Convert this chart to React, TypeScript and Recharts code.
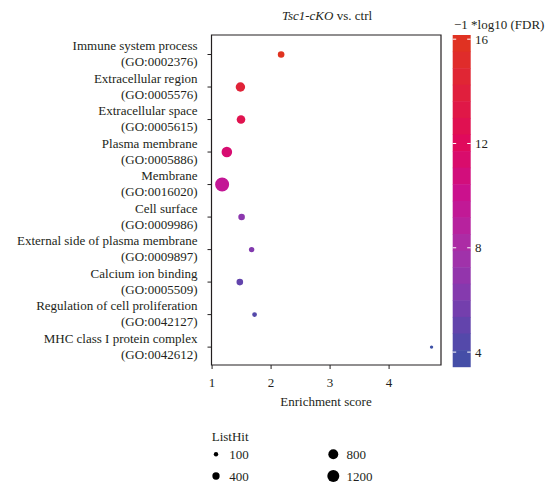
import React from "react";
import { ScatterChart, Scatter, XAxis, YAxis, ZAxis, Cell, ReferenceArea } from "recharts";

const terms = [
  "Immune system process",
  "Extracellular region",
  "Extracellular space",
  "Plasma membrane",
  "Membrane",
  "Cell surface",
  "External side of plasma membrane",
  "Calcium ion binding",
  "Regulation of cell proliferation",
  "MHC class I protein complex",
];
const goIds = [
  "GO:0002376",
  "GO:0005576",
  "GO:0005615",
  "GO:0005886",
  "GO:0016020",
  "GO:0009986",
  "GO:0009897",
  "GO:0005509",
  "GO:0042127",
  "GO:0042612",
];
const enrichment = [2.17, 1.48, 1.49, 1.25, 1.17, 1.5, 1.67, 1.47, 1.72, 4.72];
const listHit = [314, 709, 582, 921, 1659, 314, 187, 314, 133, 31];
const logFdr = [16.0, 14.3, 12.8, 11.2, 9.6, 6.6, 6.2, 5.0, 4.4, 3.44];

const xTicks = [1, 2, 3, 4];
const fdrTicks = [4, 8, 12, 16];
const sizeBreaks = [100, 400, 800, 1200];

// colour ramp of the FDR scale
const rampVals = [3.44, 5, 6.5, 8, 10, 12, 14, 16.16];
const rampCols = ["#3d51a6", "#6244ac", "#8a38ae", "#a92fa8", "#ca1190", "#e00a5c", "#e0203c", "#e0351e"];

const FONT = "'Liberation Serif', 'Times New Roman', serif";
const INK = "#231f20";

const hex = (c: string) => [1, 3, 5].map((i) => parseInt(c.slice(i, i + 2), 16));
function fdrColor(v: number) {
  if (v <= rampVals[0]) return rampCols[0];
  for (let i = 1; i < rampVals.length; i++) {
    if (v <= rampVals[i]) {
      const t = (v - rampVals[i - 1]) / (rampVals[i] - rampVals[i - 1]);
      const a = hex(rampCols[i - 1]);
      const b = hex(rampCols[i]);
      const m = a.map((x, k) => Math.round(x + (b[k] - x) * t));
      return `rgb(${m[0]},${m[1]},${m[2]})`;
    }
  }
  return rampCols[rampCols.length - 1];
}

// z -> area (px^2), linear with a small floor like ggplot's size scale
const Z_DOMAIN = [0, 2000];
const Z_RANGE = [2 * Math.PI, 58.67 * Math.PI];
const radiusOf = (n: number) => {
  const area = Z_RANGE[0] + ((Z_RANGE[1] - Z_RANGE[0]) * (n - Z_DOMAIN[0])) / (Z_DOMAIN[1] - Z_DOMAIN[0]);
  return Math.sqrt(area / Math.PI);
};

const data = terms.map((t, i) => ({
  term: t,
  rank: i + 1,
  score: enrichment[i],
  hits: listHit[i],
  fdr: logFdr[i],
}));

const X_DOMAIN = [0.99, 4.88];
const Y_DOMAIN = [0.4, 10.55];

function TermTick(props: any) {
  const { x, y, payload } = props;
  const i = payload.value - 1;
  return (
    <text x={x} y={y} textAnchor="end" fill={INK} fontSize={13} fontFamily={FONT}>
      <tspan x={x} dy={-4.5}>{terms[i]}</tspan>
      <tspan x={x} dy={16}>({goIds[i]})</tspan>
    </text>
  );
}

// colour bar geometry
const BAR = { x: 452.7, y: 35, w: 18, h: 331.7, top: 16.16, bottom: 3.44 };
const barY = (v: number) => BAR.y + ((BAR.top - v) / (BAR.top - BAR.bottom)) * BAR.h;

function Overlay() {
  const bins = 20;
  const step = BAR.h / bins;
  return (
    <svg
      width={549}
      height={487}
      style={{ position: "absolute", left: 0, top: 0, pointerEvents: "none" }}
      fontFamily={FONT}
      fill={INK}
    >
      <text x={327} y={19.5} textAnchor="middle" fontSize={13}>
        <tspan fontStyle="italic">Tsc1-cKO</tspan> vs. ctrl
      </text>
      <text x={326} y={406} textAnchor="middle" fontSize={13}>
        Enrichment score
      </text>

      <text x={454} y={28.5} fontSize={13}>−1 *log10 (FDR)</text>
      {Array.from({ length: bins }, (_, k) => {
        const v = BAR.top - ((k + 0.5) / bins) * (BAR.top - BAR.bottom);
        return <rect key={k} x={BAR.x} y={BAR.y + k * step} width={BAR.w} height={step + 0.5} fill={fdrColor(v)} />;
      })}
      {fdrTicks.map((t) => (
        <g key={t}>
          <line x1={BAR.x} x2={BAR.x + 3.5} y1={barY(t)} y2={barY(t)} stroke="#fff" strokeWidth={1} />
          <line x1={BAR.x + BAR.w - 3.5} x2={BAR.x + BAR.w} y1={barY(t)} y2={barY(t)} stroke="#fff" strokeWidth={1} />
          <text x={475} y={barY(t) + 4.5} fontSize={13}>{t}</text>
        </g>
      ))}

      <text x={211.7} y={441} fontSize={13}>ListHit</text>
      {sizeBreaks.map((n, i) => {
        const cx = i < 2 ? 216 : 333.3;
        const cy = i % 2 === 0 ? 454.3 : 476;
        return (
          <g key={n}>
            <circle cx={cx} cy={cy} r={radiusOf(n)} fill="#000" />
            <text x={cx + 13.3} y={cy + 4.5} fontSize={13}>{n}</text>
          </g>
        );
      })}
    </svg>
  );
}

export default function App() {
  return (
    <div style={{ position: "absolute", left: 0, top: 0, width: 549, height: 487, background: "#fff" }}>
      <ScatterChart width={549} height={487} margin={{ top: 35, right: 108, bottom: 92, left: 0 }}>
        <XAxis
          type="number"
          dataKey="score"
          domain={X_DOMAIN}
          allowDataOverflow
          ticks={xTicks}
          height={30}
          axisLine={false}
          tickSize={4}
          tickMargin={9}
          tickLine={{ stroke: INK }}
          tick={{ fill: INK, fontSize: 13, fontFamily: FONT }}
        />
        <YAxis
          type="number"
          dataKey="rank"
          domain={Y_DOMAIN}
          allowDataOverflow
          reversed
          ticks={terms.map((_, i) => i + 1)}
          interval={0}
          width={211.5}
          axisLine={false}
          tickSize={4}
          tickMargin={10}
          tickLine={{ stroke: INK }}
          tick={<TermTick />}
        />
        <ZAxis type="number" dataKey="hits" domain={Z_DOMAIN} range={Z_RANGE} />
        <ReferenceArea
          x1={X_DOMAIN[0]}
          x2={X_DOMAIN[1]}
          y1={Y_DOMAIN[0]}
          y2={Y_DOMAIN[1]}
          fill="none"
          stroke={INK}
          strokeWidth={1.2}
        />
        <Scatter data={data} isAnimationActive={false}>
          {data.map((d) => (
            <Cell key={d.term} fill={fdrColor(d.fdr)} />
          ))}
        </Scatter>
      </ScatterChart>
      <Overlay />
    </div>
  );
}
